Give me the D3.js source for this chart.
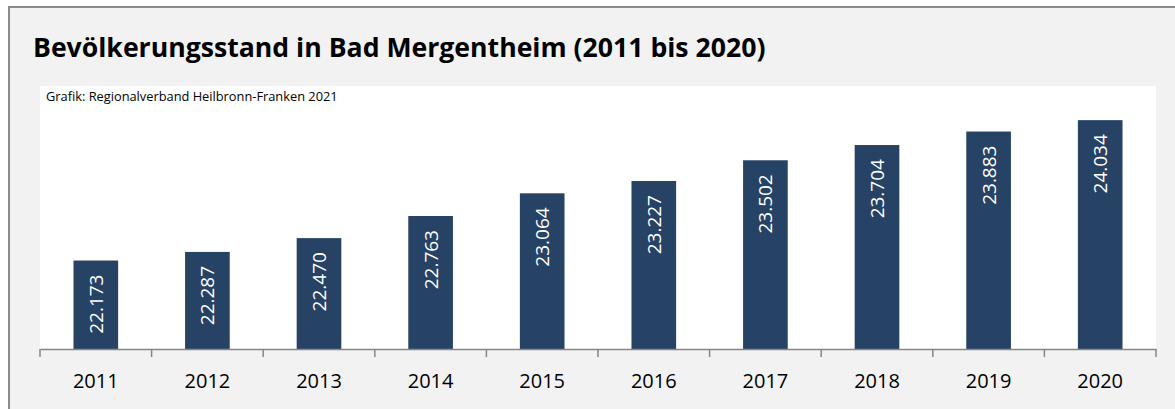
<!DOCTYPE html>
<html><head><meta charset="utf-8">
<script src="https://cdn.jsdelivr.net/npm/d3@7"></script>
<style>html,body{margin:0;padding:0;background:#fff;}svg{display:block;}</style>
</head><body>
<svg id="c" width="1175" height="409"></svg>
<script>
const years = ["2011","2012","2013","2014","2015","2016","2017","2018","2019","2020"];
const population = [22173,22287,22470,22763,23064,23227,23502,23704,23883,24034];
const valueLabels = ["22.173","22.287","22.470","22.763","23.064","23.227","23.502","23.704","23.883","24.034"];
const titleText = "Bevölkerungsstand in Bad Mergentheim (2011 bis 2020)";
const sourceText = "Grafik: Regionalverband Heilbronn-Franken 2021";
const yDomain = [21000, 24500];

const svg = d3.select("#c");
const font = "'Open Sans', 'Liberation Sans', sans-serif";

// outer frame
svg.append("rect").attr("x",0).attr("y",0).attr("width",1175).attr("height",409).attr("fill","#ffffff");
svg.append("rect").attr("x",9).attr("y",7).attr("width",1180).attr("height",420)
  .attr("fill","#f2f2f2").attr("stroke","#8c8c8c").attr("stroke-width",2);

// plot area (white)
const plot = {left:40, right:1156, top:86, bottom:349};
svg.append("rect").attr("x",plot.left).attr("y",plot.top)
  .attr("width",plot.right-plot.left).attr("height",plot.bottom-plot.top).attr("fill","#ffffff");

function fitText(sel, target){
  const n = sel.node();
  const fs = parseFloat(sel.attr("font-size"));
  const len = n.getComputedTextLength();
  if(len>0) sel.attr("font-size", fs*target/len);
}

// title
const t = svg.append("text").attr("x",33).attr("y",57).attr("font-family",font)
  .attr("font-weight","bold").attr("font-size",22).attr("fill","#000").text(titleText);
fitText(t, 733);

const s = svg.append("text").attr("x",46).attr("y",101).attr("font-family",font)
  .attr("font-size",11).attr("fill","#000").text(sourceText);
fitText(s, 292);

const x = d3.scaleBand().domain(years).range([plot.left, plot.right]).paddingInner(0.6).paddingOuter(0.3);
const xb = d3.scaleBand().domain(years).range([plot.left, plot.right]);
const y = d3.scaleLinear().domain(yDomain).range([plot.bottom, 85]);

svg.selectAll("rect.bar").data(years).enter().append("rect").attr("class","bar")
  .attr("x", d=>x(d)).attr("width", x.bandwidth())
  .attr("y", (d,i)=>y(population[i])).attr("height",(d,i)=>plot.bottom-y(population[i]))
  .attr("fill","#264264");

svg.selectAll("text.val").data(years).enter().append("text").attr("class","val")
  .attr("transform",(d,i)=>`translate(${x(d)+x.bandwidth()/2+7},${y(population[i])+14}) rotate(-90)`)
  .attr("text-anchor","end").attr("font-family",font).attr("font-size",19)
  .attr("fill","#ffffff").text((d,i)=>valueLabels[i]);

// axis
const axis = d3.axisBottom(xb).tickSize(0).tickFormat("");
const g = svg.append("g").attr("transform",`translate(0,${plot.bottom})`).call(axis);
g.select(".domain").attr("stroke","#868686").attr("stroke-width",1.5);
const bounds = years.map(d=>xb(d)).concat([plot.right]);
g.selectAll("line.tk").data(bounds).enter().append("line").attr("class","tk")
  .attr("x1",d=>d).attr("x2",d=>d).attr("y1",0).attr("y2",8)
  .attr("stroke","#868686").attr("stroke-width",1.5);

svg.selectAll("text.yr").data(years).enter().append("text").attr("class","yr")
  .attr("x",d=>xb(d)+xb.bandwidth()/2).attr("y",388).attr("text-anchor","middle")
  .attr("font-family",font).attr("font-size",20).attr("fill","#000").text(d=>d);
</script>
</body></html>
